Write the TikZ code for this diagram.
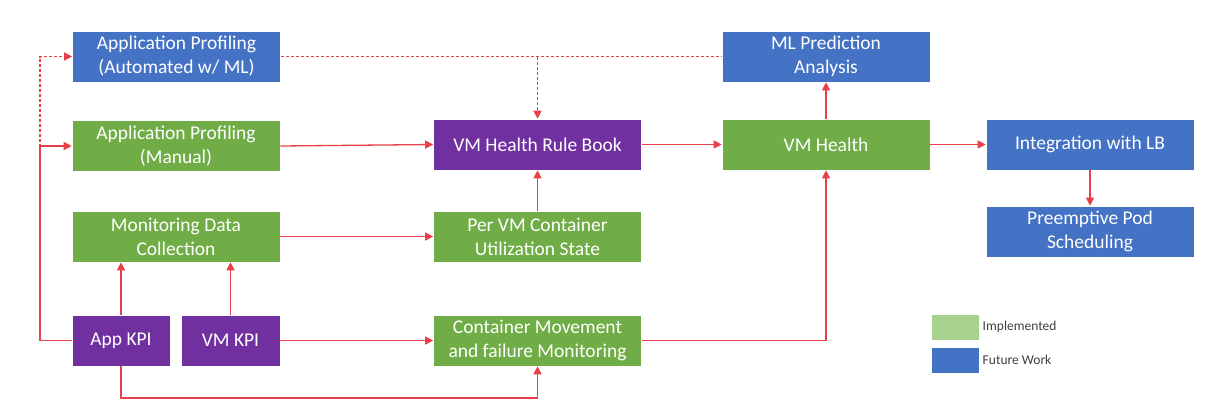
\documentclass[tikz,border=0pt]{standalone}
\usepackage{fontspec}
\setmainfont{Carlito}
\usetikzlibrary{arrows.meta}
\definecolor{futureblue}{HTML}{4472C4}
\definecolor{implgreen}{HTML}{70AD47}
\definecolor{corepurple}{HTML}{7030A0}
\definecolor{lightgreen}{HTML}{A9D18E}
\definecolor{linkred}{RGB}{232,64,72}
\begin{document}
\begin{tikzpicture}[x=1pt,y=-1pt,
	box/.style={draw=white, line width=0.6pt, text=white, align=center,
		minimum width=208pt, minimum height=51pt, inner sep=2pt,
		font=\fontsize{19.5}{24}\selectfont},
	future/.style={box, fill=futureblue},
	implemented/.style={box, fill=implgreen},
	core/.style={box, fill=corepurple},
	link/.style={draw=linkred, line width=1.3pt, -{Triangle[length=8pt,width=8pt]}},
	wire/.style={draw=linkred, line width=1.3pt},
	swatch/.style={draw=white, minimum width=48pt, minimum height=26pt},
	legendtext/.style={anchor=west, text=black!75, font=\fontsize{13.5}{15}\selectfont}]
	  \useasboundingbox [fill=white] (0,0) rectangle (1206,408);

	  % left column
	  \node [future] (auto) at (176.5,56.5) {Application Profiling\\(Automated w/ ML)};
	  \node [implemented] (manual) at (176,146) {Application Profiling\\(Manual)};
	  \node [implemented] (monitor) at (176,236.5) {Monitoring Data\\Collection};
	  \node [core, minimum width=98pt] (appkpi) at (121,340.5) {App KPI};
	  \node [core, minimum width=99pt] (vmkpi) at (230.5,340.5) {VM KPI};

	  % middle column
	  \node [core] (rulebook) at (537.5,144.5) {VM Health Rule Book};
	  \node [implemented] (pervm) at (537.5,236.5) {Per VM Container\\Utilization State};
	  \node [implemented] (movement) at (537.5,340.5) {Container Movement\\and failure Monitoring};

	  % right side
	  \node [future] (mlpred) at (826,56.5) {ML Prediction\\Analysis};
	  \node [implemented] (vmhealth) at (826,144.5) {VM Health};
	  \node [future] (lb) at (1090,144.5) {Integration with LB};
	  \node [future] (preempt) at (1090,231.5) {Preemptive Pod\\Scheduling};

	  % legend
	  \node [swatch, fill=lightgreen] (implkey) at (955,327) {};
	  \node [swatch, fill=futureblue] (futurekey) at (955,360) {};
	  \node [legendtext] (impltext) at (implkey.east) {Implemented};
	  \node [legendtext] (futuretext) at (futurekey.east) {Future Work};

	  \coordinate (bus) at (40,0);
	  \coordinate (low) at (0,398);

	  \draw [link] (appkpi.west) -- (appkpi.west -| bus) |- (manual.west);
	  \draw [link, densely dashed] (appkpi.west) -- (appkpi.west -| bus) |- (auto.west);
	  \draw [wire, densely dashed] (auto.east) -- (mlpred.west);
	  \draw [link, densely dashed] (auto.east -| rulebook.north) -- (rulebook.north);

	  \draw [link] (manual.east) -- (rulebook.west);
	  \draw [link] (rulebook) -- (vmhealth);
	  \draw [link] (pervm) -- (rulebook);
	  \draw [link] (monitor) -- (pervm);
	  \draw [link] (appkpi.north) -- (appkpi.north |- monitor.south);
	  \draw [link] (vmkpi.north) -- (vmkpi.north |- monitor.south);
	  \draw [link] (vmkpi) -- (movement);
	  \draw [link] (appkpi.south) -- (appkpi.south |- low) -| (movement.south);
	  \draw [link] (movement.east) -| (vmhealth.south);

	  \draw [link] (vmhealth) -- (mlpred);
	  \draw [link] (vmhealth) -- (lb);
	  \draw [link] (lb) -- (preempt);
	\end{tikzpicture}
\end{document}
